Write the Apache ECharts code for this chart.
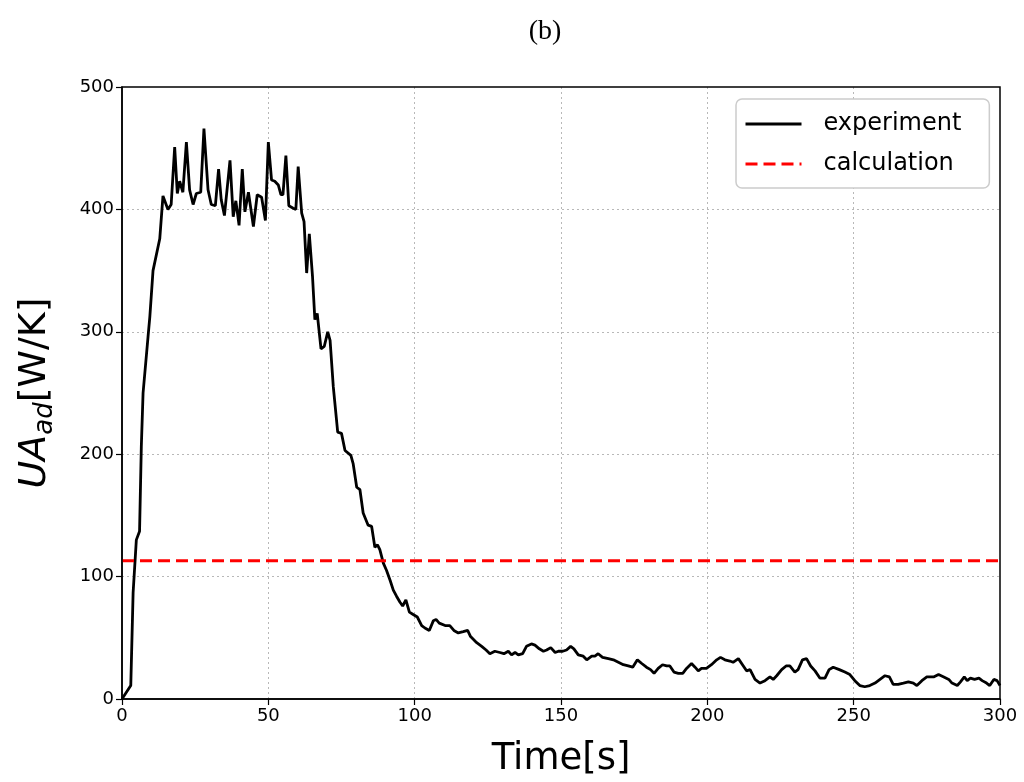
<!DOCTYPE html>
<html><head><meta charset="utf-8">
<script src="https://cdn.jsdelivr.net/npm/echarts@6/dist/echarts.min.js"></script>
<style>html,body{margin:0;padding:0;background:#fff}#c{width:1024px;height:782px}</style>
</head><body><div id="c"></div>
<script>
const timeS = [0,3,3.8,4.9,6,6.6,7.2,8.9,9.5,10.6,12.9,14,15.7,16.8,18,18.9,19.7,20.8,22,23.1,24.3,25.4,26.9,28,29.4,30.5,31.9,33,33.9,35,36.9,38,38.9,40,41.1,42,43.2,44.9,46.2,47.7,49,50,51.1,52.2,53.4,54.3,55,56,57,58.5,59.4,60.2,61.4,62.2,63.1,64,65.1,65.9,66.7,68,69.1,70.3,71.1,72.2,73.7,75,76.2,78.2,79,80.2,81.3,82.4,84.1,85.3,86.4,87.3,88.1,89.3,90.4,91.6,92.7,93.8,95,95.9,97,98.2,99.5,100.9,102.4,103.5,105,106.4,107.3,108.4,110.4,112,113.4,114.9,116.6,118.1,119.1,121.2,122.9,124.4,125.7,127.4,129.1,130.5,132,133.1,134.3,135.4,136.9,138.2,139.9,141.1,142.6,144,145.1,146.5,148,149.1,150.6,151.9,153.3,154.4,155.9,157.6,158.8,160.5,161.6,162.7,164.2,166.2,167.9,169.6,171.3,173,174.5,176.1,177.6,179.2,180.6,181.8,183.2,184.7,186.1,187.2,188.6,190.1,191.6,192.9,194.6,195.8,196.9,198,199.7,201.4,203.2,204.5,206,207.7,208.8,210.6,212.3,213.4,214.6,216.3,218,219.7,221.4,222.5,223.7,225.4,226.9,228.2,229.9,231,232.5,233.9,235.3,236.8,238.5,240.2,241.6,243,245.1,247,248.7,250.4,252.1,253.8,255.5,257.3,259,260.7,262.2,263.5,265.2,267,268.7,270.4,271.6,273.3,275,277.3,279,280.8,282.5,283.6,285.4,286.5,287.8,288.8,289.9,291.3,292.8,293.9,295.4,296.5,297.9,299,300];
const experiment = [0,11,87,130,137,206,250,296,312,350,376,411,400,404,451,413,423,414,455,416,404,413,414,466,416,404,403,433,408,395,440,394,407,387,433,398,414,386,412,410,391,455,424,423,420,412,412,444,403,401,400,435,397,390,348,380,345,310,315,286,288,300,293,255,218,217,203,199,192,173,171,152,142,141,124,126,122,111,105,97,89,84,79,76,81,71,69,67,60,58,56,64,65,62,60,60,56,54,55,56,51,46,43,40,37,39,38,37,39,36,38,36,37,43,45,44,41,39,40,42,38,39,39,40,43,41,36,35,32,35,35,37,34,33,32,30,28,27,26,32,29,26,24,21,25,28,27,27,22,21,21,25,29,26,23,25,25,28,32,34,32,31,30,33,27,23,24,16,13,15,18,16,19,24,27,27,22,24,32,33,27,23,17,17,24,26,24,22,20,15,11,10,11,13,16,19,18,12,12,13,14,13,11,15,18,18,20,18,16,13,11,14,18,15,17,16,17,15,13,11,16,15,11];
const calcTime = [0, 300];
const calculation = [113, 113];
const xTicks = [0,50,100,150,200,250,300];
const yTicks = [0,100,200,300,400,500];

const chart = echarts.init(document.getElementById('c'), null, {renderer:'canvas'});
const sans = 'DejaVu Sans';
chart.setOption({
  animation:false,
  backgroundColor:'#fff',
  title:{text:'(b)', left:540, top:13, textAlign:'center',
    textStyle:{fontFamily:'Liberation Serif', fontSize:28, fontWeight:'normal', color:'#000'}},
  grid:{left:122, right:24, top:87, bottom:83, outerBoundsMode:'none', containLabel:false,
    show:true, borderColor:'#000', borderWidth:1.5, backgroundColor:'transparent', z:5},
  legend:{
    left:736, top:99, orient:'vertical',
    padding:[13,28,12,8], itemGap:16, itemWidth:56, itemHeight:14,
    backgroundColor:'#fff', borderColor:'#ccc', borderWidth:1.5, borderRadius:6,
    itemStyle:{opacity:0},
    lineStyle:{width:3},
    textStyle:{fontFamily:sans, fontSize:24, color:'#000', padding:[0,0,0,17]},
    data:['experiment','calculation']
  },
  xAxis:{type:'value', min:0, max:300, interval:50,
    name:'Time[s]', nameLocation:'middle', nameGap:42,
    nameTextStyle:{fontFamily:sans, fontSize:37, color:'#000'},
    axisLine:{show:true, onZero:false, lineStyle:{color:'#000', width:1.5}},
    axisTick:{show:true, length:6, lineStyle:{color:'#000', width:1.2}},
    axisLabel:{fontFamily:sans, fontSize:18, color:'#000', margin:8,
      formatter:v=>xTicks.includes(v)?String(v):''},
    splitLine:{show:true, showMinLine:false, showMaxLine:false, lineStyle:{color:'#b8b8b8', width:1, type:[2,3]}}
  },
  yAxis:{type:'value', min:0, max:500, interval:100,
    name:'{i|UA}{s|ad}{n|[W/K]}', nameLocation:'middle', nameGap:64, nameRotate:90,
    nameTextStyle:{fontFamily:sans, color:'#000',
      rich:{
        i:{fontFamily:sans, fontSize:38, fontStyle:'italic', color:'#000', lineHeight:46, verticalAlign:'middle'},
        s:{fontFamily:sans, fontSize:26, fontStyle:'italic', color:'#000', lineHeight:46, verticalAlign:'bottom', padding:[12,0,0,0]},
        n:{fontFamily:sans, fontSize:38, color:'#000', lineHeight:46, verticalAlign:'middle'}
      }},
    axisLine:{show:true, lineStyle:{color:'#000', width:1.5}},
    axisTick:{show:true, length:6, lineStyle:{color:'#000', width:1.2}},
    axisLabel:{fontFamily:sans, fontSize:18, color:'#000', margin:8,
      formatter:v=>yTicks.includes(v)?String(v):''},
    splitLine:{show:true, showMinLine:false, showMaxLine:false, lineStyle:{color:'#b8b8b8', width:1, type:[2,3]}}
  },
  series:[
    {name:'experiment', type:'line', symbol:'none', z:3,
      data:timeS.map((t,i)=>[t, experiment[i]]),
      lineStyle:{color:'#000', width:2.8}, itemStyle:{color:'#000'}},
    {name:'calculation', type:'line', symbol:'none', z:4,
      data:calcTime.map((t,i)=>[t, calculation[i]]),
      lineStyle:{color:'#ff0000', width:3, type:[12,6]}, itemStyle:{color:'#ff0000'}}
  ]
});
</script></body></html>
